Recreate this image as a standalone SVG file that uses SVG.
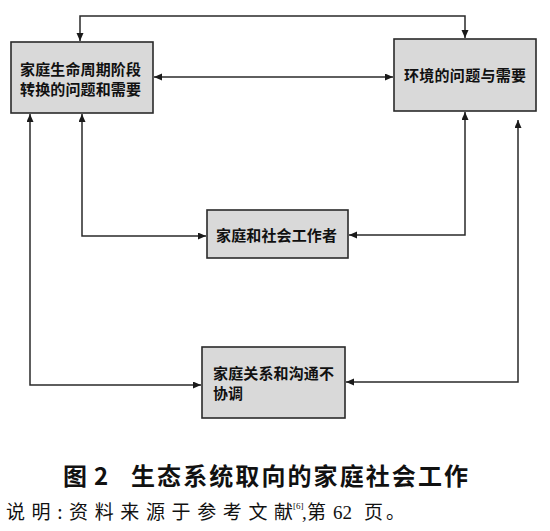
<svg xmlns="http://www.w3.org/2000/svg" width="550" height="531" viewBox="0 0 550 531">
<style>
.box{fill:#d9d9d9;stroke:#2a2a2a;stroke-width:1.6}
.lbl{font-family:"Noto Sans CJK SC",sans-serif;font-weight:bold;font-size:15px;fill:#111}
.con{fill:none;stroke:#2a2a2a;stroke-width:1.5}
.cap{font-family:"Noto Sans CJK SC",sans-serif;font-weight:bold;font-size:24px;fill:#111}
.note{font-family:"Noto Sans CJK SC",sans-serif;font-size:19px;fill:#111}
.ser{font-family:"Liberation Serif",serif;font-size:19px;fill:#111}
.sup{font-family:"Liberation Serif",serif;font-size:9px;fill:#111}
</style>
<defs>
<marker id="ah" markerUnits="userSpaceOnUse" markerWidth="9" markerHeight="8" refX="8" refY="3.5" orient="auto-start-reverse">
<path d="M0,0 L8,3.5 L0,7 z" fill="#1a1a1a"/>
</marker>
</defs>
<rect width="550" height="531" fill="#ffffff"/>
<g id="connectors">
<polyline class="con" points="80,41 80,16 465,16 465,38" marker-start="url(#ah)" marker-end="url(#ah)"/>
<line class="con" x1="154" y1="77" x2="393" y2="77" marker-start="url(#ah)" marker-end="url(#ah)"/>
<polyline class="con" points="82,114 82,236 206,236" marker-start="url(#ah)" marker-end="url(#ah)"/>
<polyline class="con" points="465,112 465,235 349,235" marker-start="url(#ah)" marker-end="url(#ah)"/>
<polyline class="con" points="30,114 30,385 201,385" marker-start="url(#ah)" marker-end="url(#ah)"/>
<polyline class="con" points="518,120 518,382 346,382" marker-start="url(#ah)" marker-end="url(#ah)"/>
</g>
<g id="node-lifecycle">
<rect class="box" x="11" y="42" width="142" height="71"/>
<text class="lbl" x="20" y="75" textLength="121" lengthAdjust="spacing">家庭生命周期阶段</text>
<text class="lbl" x="20" y="95" textLength="121" lengthAdjust="spacing">转换的问题和需要</text>
</g>
<g id="node-environment">
<rect class="box" x="394" y="39" width="142" height="72"/>
<text class="lbl" x="404" y="81" textLength="122" lengthAdjust="spacing">环境的问题与需要</text>
</g>
<g id="node-worker">
<rect class="box" x="207" y="210" width="141" height="48"/>
<text class="lbl" x="216" y="241" textLength="121" lengthAdjust="spacing">家庭和社会工作者</text>
</g>
<g id="node-relation">
<rect class="box" x="202" y="347" width="143" height="71"/>
<text class="lbl" x="213" y="379" textLength="121" lengthAdjust="spacing">家庭关系和沟通不</text>
<text class="lbl" x="213" y="399">协调</text>
</g>
<g id="caption">
<text class="cap" x="63" y="485">图</text>
<text class="cap" x="94" y="485">2</text>
<text class="cap" x="131" y="485" textLength="337" lengthAdjust="spacing">生态系统取向的家庭社会工作</text>
<text class="note" x="6" y="519" textLength="287" lengthAdjust="spacing">说明:资料来源于参考文献</text>
<text class="sup" x="293" y="509">[6]</text>
<text class="ser" x="302" y="519">,</text>
<text class="note" x="307" y="519">第</text>
<text class="ser" x="333" y="519">62</text>
<text class="note" x="364" y="519">页</text>
<text class="note" x="386" y="519">。</text>
</g>
</svg>
